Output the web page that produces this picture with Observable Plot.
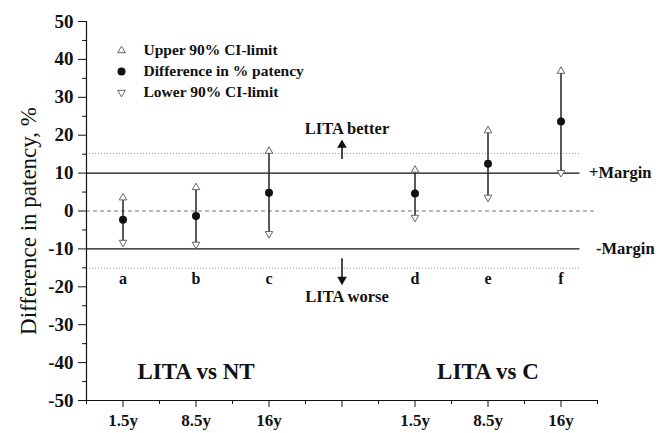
<!DOCTYPE html>
<html>
<head>
<meta charset="utf-8">
<script src="https://cdn.jsdelivr.net/npm/d3@7"></script>
<script src="https://cdn.jsdelivr.net/npm/@observablehq/plot@0.6"></script>
<style>
  html, body { margin: 0; padding: 0; background: white; }
</style>
</head>
<body>
<div id="chart"></div>
<script>
// ---- data ----
const groups = ["a", "b", "c", "d", "e", "f"];
const xPos = [1, 2, 3, 5, 6, 7];
const xTickLabels = ["1.5y", "8.5y", "16y", "1.5y", "8.5y", "16y"];
const upperCI = [3.5, 6.2, 15.8, 10.8, 21.2, 36.9];
const diffPatency = [-2.3, -1.3, 4.8, 4.6, 12.5, 23.6];
const lowerCI = [-8.3, -8.8, -6.0, -1.7, 3.6, 10.1];

const marginLevels = [10, -10];
const dottedLevels = [15.2, -15.1];
const comparisonTitles = ["LITA vs NT", "LITA vs C"];
const comparisonCenters = [2, 6];
const legendItems = ["Upper 90% CI-limit", "Difference in % patency", "Lower 90% CI-limit"];
const yTicks = d3.range(-50, 51, 10);
const yMinorTicks = d3.range(-45, 50, 10);

const table = groups.map((g, i) => ({
  group: g, x: xPos[i], label: xTickLabels[i],
  upper: upperCI[i], diff: diffPatency[i], lower: lowerCI[i]
}));
const labelByPos = new Map(table.map(d => [d.x, d.label]));

const FONT = "'Liberation Serif', 'Times New Roman', serif";
const lineEnd = 7.26;

const legendMarks = legendItems.flatMap((t, i) => {
  const dy = 29 + i * 21;
  const sym = i === 1
    ? Plot.dot([t], {frameAnchor: "top-left", dx: 35, dy, r: 4, fill: "#111", stroke: "none"})
    : Plot.dot([t], {frameAnchor: "top-left", dx: 35, dy, r: 2.8, symbol: "triangle", rotate: i === 2 ? 180 : 0, fill: "white", stroke: "#555", strokeWidth: 0.9});
  return [sym, Plot.text([t], {frameAnchor: "top-left", dx: 57, dy, text: d => d, textAnchor: "start", lineAnchor: "middle", fontSize: 15.5, fontWeight: "bold", fill: "#111"})];
});

const chart = Plot.plot({
  width: 662,
  height: 433,
  marginLeft: 86,
  marginRight: 65,
  marginTop: 21,
  marginBottom: 33,
  style: {fontFamily: FONT, background: "white", color: "#111"},
  x: {domain: [0.5, 7.5], label: null},
  y: {domain: [-50, 50], label: null},
  marks: [
    // reference lines
    Plot.ruleY([0], {x1: 0.5, x2: 7.5, stroke: "#777", strokeWidth: 1, strokeDasharray: "4,3"}),
    Plot.ruleY(dottedLevels, {x1: 0.5, x2: lineEnd, stroke: "#999", strokeWidth: 1, strokeDasharray: "1,2"}),
    Plot.ruleY(marginLevels, {x1: 0.5, x2: lineEnd, stroke: "#111", strokeWidth: 1.3}),
    // axes lines
    Plot.ruleX([0.5], {y1: -50, y2: 50, stroke: "#111", strokeWidth: 1.2}),
    Plot.ruleY([-50], {x1: 0.5, x2: 7.5, stroke: "#111", strokeWidth: 1.2}),
    // y axis
    Plot.axisY({ticks: yTicks, tickSize: 8, tickPadding: 5, tickFormat: d => String(d), fontSize: 19, fontWeight: "bold", label: null, stroke: "#111"}),
    Plot.axisY({ticks: yMinorTicks, tickSize: 4, tickFormat: () => "", label: null}),
    // x axis
    Plot.axisX({ticks: xPos, tickSize: 7, tickPadding: 6, tickFormat: d => labelByPos.get(d), fontSize: 17, fontWeight: "bold", label: null}),
    Plot.axisX({ticks: [4], tickSize: 7, tickFormat: () => "", label: null}),
    Plot.axisX({ticks: d3.range(0.5, 7.6, 1), tickSize: 4, tickFormat: () => "", label: null}),
    // y label
    Plot.text(["Difference in patency, %"], {frameAnchor: "left", textAnchor: "middle", lineAnchor: "middle", dx: -58, dy: 10, rotate: -90, text: d => d, fontSize: 23, fill: "#111"}),
    // error bars
    Plot.ruleX(table, {x: "x", y1: "lower", y2: "upper", stroke: "#222", strokeWidth: 1.5}),
    Plot.dot(table, {x: "x", y: "upper", symbol: "triangle", r: 2.8, fill: "white", stroke: "#555", strokeWidth: 0.9}),
    Plot.dot(table, {x: "x", y: "lower", symbol: "triangle", rotate: 180, r: 2.8, fill: "white", stroke: "#555", strokeWidth: 0.9}),
    Plot.dot(table, {x: "x", y: "diff", r: 4, fill: "#111", stroke: "none"}),
    // letters
    Plot.text(table, {x: "x", y: dottedLevels[1], text: "group", dy: 11, fontSize: 16, fontWeight: "bold", fill: "#111"}),
    // margin labels
    Plot.text(["+Margin"], {x: lineEnd, y: marginLevels[0], text: d => d, textAnchor: "start", dx: 9, fontSize: 16.5, fontWeight: "bold", fill: "#111"}),
    Plot.text(["-Margin"], {x: lineEnd, y: marginLevels[1], text: d => d, textAnchor: "start", dx: 16, fontSize: 16.5, fontWeight: "bold", fill: "#111"}),
    // better / worse annotations
    Plot.text(["LITA better"], {x: 4, y: dottedLevels[0], text: d => d, dx: 5, dy: -25, fontSize: 16.5, fontWeight: "bold", fill: "#111"}),
    Plot.text(["LITA worse"], {x: 4, y: dottedLevels[1], text: d => d, dx: 5, dy: 28, fontSize: 16.5, fontWeight: "bold", fill: "#111"}),
    Plot.ruleX([4], {y1: 13.6, y2: 17.2, stroke: "#111", strokeWidth: 1.5}),
    Plot.dot([4], {x: d => d, y: 17.4, symbol: "triangle", r: 2.6, fill: "#111", stroke: "#111"}),
    Plot.ruleX([4], {y1: -12.6, y2: -17.9, stroke: "#111", strokeWidth: 1.5}),
    Plot.dot([4], {x: d => d, y: -18.1, symbol: "triangle", rotate: 180, r: 2.6, fill: "#111", stroke: "#111"}),
    // comparison titles
    Plot.text(comparisonTitles, {x: (d, i) => comparisonCenters[i], frameAnchor: "bottom", lineAnchor: "middle", dy: -29, text: d => d, fontSize: 23, fontWeight: "bold", fill: "#111"}),
    // legend
    ...legendMarks
  ]
});
document.getElementById("chart").appendChild(chart);
</script>
</body>
</html>
